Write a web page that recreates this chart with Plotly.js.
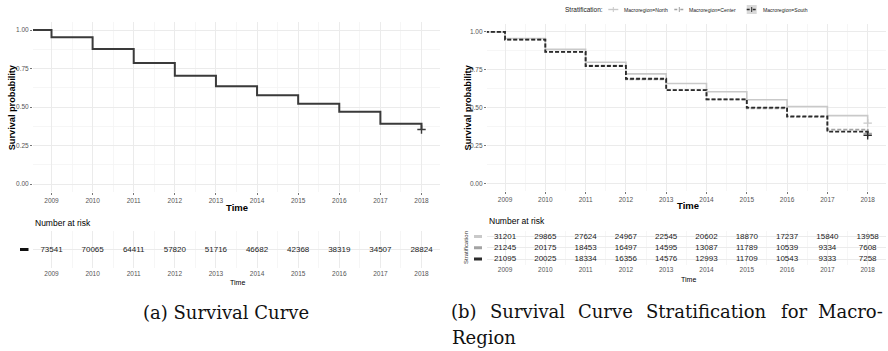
<!DOCTYPE html>
<html>
<head>
<meta charset="utf-8">
<script src="https://cdn.plot.ly/plotly-3.0.1.min.js"></script>
<style>html,body{margin:0;padding:0;background:#fff;}#chart{width:888px;height:351px;}</style>
</head>
<body>
<div id="chart"></div>
<script>
// ---------- data ----------
const years = [2009, 2010, 2011, 2012, 2013, 2014, 2015, 2016, 2017, 2018];
const survTime = [2008.5, 2009, 2010, 2011, 2012, 2013, 2014, 2015, 2016, 2017, 2018];
const survAll    = [1.00, 0.953, 0.876, 0.786, 0.703, 0.635, 0.576, 0.521, 0.469, 0.392, 0.354];
const survNorth  = [1.00, 0.957, 0.885, 0.800, 0.723, 0.660, 0.605, 0.552, 0.508, 0.447, 0.398];
const survCenter = [1.00, 0.950, 0.869, 0.777, 0.687, 0.616, 0.555, 0.496, 0.439, 0.355, 0.330];
const survSouth  = [1.00, 0.949, 0.869, 0.775, 0.691, 0.616, 0.555, 0.500, 0.442, 0.341, 0.318];
const riskAll    = [73541, 70065, 64411, 57820, 51716, 46682, 42368, 38319, 34507, 28824];
const riskNorth  = [31201, 29865, 27624, 24967, 22545, 20602, 18870, 17237, 15840, 13958];
const riskCenter = [21245, 20175, 18453, 16497, 14595, 13087, 11789, 10539, 9334, 7608];
const riskSouth  = [21095, 20025, 18334, 16356, 14576, 12993, 11709, 10543, 9333, 7258];
const strataNames = ["Macroregion=North", "Macroregion=Center", "Macroregion=South"];
const yTicks = [0, 0.25, 0.5, 0.75, 1.0];

// ---------- helpers ----------
const W = 888, H = 351;
const px = v => v / W;
const py = v => 1 - v / H;
const SANS = "Liberation Sans, Arial, sans-serif";
const SERIF = "DejaVu Serif, serif";
const gridMajor = "#ebebeb", gridMinor = "#f4f4f4";
const colAll = "#3a3a3a", colN = "#c9c9c9", colC = "#a3a3a3", colS = "#2b2b2b";
const DASH = "4px,2px";

function xAxis(dom, anchor) {
  return {
    domain: dom, anchor: anchor, range: [2008.55, 2018.45],
    tickmode: "array", tickvals: years, ticktext: years.map(String),
    tickfont: {family: SANS, size: 6.5, color: "#555"},
    ticks: "outside", ticklen: 2, tickcolor: "#555", tickwidth: 0.8,
    showgrid: true, gridcolor: gridMajor, gridwidth: 1,
    minor: {dtick: 0.5, tick0: 2009, showgrid: true, gridcolor: gridMinor, gridwidth: 0.8},
    zeroline: false, showline: false, fixedrange: true
  };
}
function yAxisPlot(dom, anchor) {
  return {
    domain: dom, anchor: anchor, range: [-0.05, 1.05],
    tickmode: "array", tickvals: yTicks, tickformat: ".2f",
    tickfont: {family: SANS, size: 6.5, color: "#555"},
    ticks: "outside", ticklen: 2, tickcolor: "#555", tickwidth: 0.8,
    showgrid: true, gridcolor: gridMajor, gridwidth: 1,
    minor: {dtick: 0.125, tick0: 0, showgrid: true, gridcolor: gridMinor, gridwidth: 0.8},
    zeroline: false, showline: false, fixedrange: true
  };
}
function yAxisTable(dom, anchor, n) {
  const vals = []; for (let i = 1; i <= n; i++) vals.push(i);
  return {
    domain: dom, anchor: anchor, range: [0.5, n + 0.5],
    tickmode: "array", tickvals: vals, showticklabels: false,
    showgrid: true, gridcolor: gridMajor, gridwidth: 1,
    zeroline: false, showline: false, ticks: "", fixedrange: true
  };
}

const traces = [];
function stepTrace(y, color, dash, width, xa, ya) {
  traces.push({x: survTime, y: y, type: "scatter", mode: "lines", line: {shape: "hv", color: color, width: width, dash: dash},
               xaxis: xa, yaxis: ya, showlegend: false, hoverinfo: "skip"});
  traces.push({x: [survTime[survTime.length - 1]], y: [y[y.length - 1]], type: "scatter", mode: "markers",
               marker: {symbol: "cross-thin", size: 6, line: {color: color, width: 1.4}, color: color},
               xaxis: xa, yaxis: ya, showlegend: false, hoverinfo: "skip", cliponaxis: false});
}
function riskTrace(vals, row, xa, ya) {
  traces.push({x: years, y: years.map(() => row), text: vals.map(String), type: "scatter", mode: "text",
               textfont: {family: SANS, size: 8, color: "#1a1a1a"}, textposition: "middle center",
               xaxis: xa, yaxis: ya, showlegend: false, hoverinfo: "skip", cliponaxis: false});
}

// left panel
stepTrace(survAll, colAll, "solid", 2, "x", "y");
riskTrace(riskAll, 1, "x2", "y2");
// right panel
stepTrace(survNorth, colN, "solid", 1.6, "x3", "y3");
stepTrace(survCenter, colC, DASH, 1.8, "x3", "y3");
stepTrace(survSouth, colS, DASH, 1.8, "x3", "y3");
riskTrace(riskNorth, 3, "x4", "y4");
riskTrace(riskCenter, 2, "x4", "y4");
riskTrace(riskSouth, 1, "x4", "y4");

// ---------- annotations ----------
const ann = [];
function text(t, x, y, opts) {
  ann.push(Object.assign({text: t, x: px(x), y: py(y), xref: "paper", yref: "paper", showarrow: false,
    xanchor: "center", yanchor: "middle", font: {family: SANS, size: 8, color: "#000"}}, opts || {}));
}
// left
text("<b>Survival probability</b>", 12.3, 107, {textangle: -90, font: {family: SANS, size: 9.2, color: "#000"}});
text("<b>Time</b>", 237, 207, {font: {family: SANS, size: 9.5, color: "#000"}});
text("Number at risk", 33, 223, {xanchor: "left", font: {family: SANS, size: 8.5, color: "#000"}});
text("Time", 237, 282, {font: {family: SANS, size: 7, color: "#000"}});
// right
text("<b>Survival probability</b>", 467, 107.5, {textangle: -90, font: {family: SANS, size: 9.2, color: "#000"}});
text("<b>Time</b>", 688, 206, {font: {family: SANS, size: 9.5, color: "#000"}});
text("Number at risk", 487, 221, {xanchor: "left", font: {family: SANS, size: 8.5, color: "#000"}});
text("Stratification", 466, 248, {textangle: -90, font: {family: SANS, size: 6, color: "#333"}});
text("Time", 688, 279, {font: {family: SANS, size: 7, color: "#000"}});
// legend
text("Stratification:", 583.5, 9.5, {font: {family: SANS, size: 6.5, color: "#222"}});
const legX = [613.3, 679.3, 751.7];
const legCol = [colN, colC, colS];
const legLabelX = [622, 687, 761];
strataNames.forEach((n, i) => text(n, legLabelX[i], 9.5, {xanchor: "left", font: {family: SANS, size: 5.1, color: "#222"}}));
// captions
text("(a) Survival Curve", 226, 312, {font: {family: SERIF, size: 18, color: "#111"}});
const capWords = ["(b)", "Survival", "Curve", "Stratification", "for", "Macro-"];
const capX = [463.5, 527.5, 605.5, 706.5, 794, 850];
capWords.forEach((w, i) => text(w, capX[i], 311, {font: {family: SERIF, size: 18, color: "#111"}}));
text("Region", 450, 337, {xanchor: "left", font: {family: SERIF, size: 18, color: "#111"}});

// ---------- shapes (legend keys, row keys) ----------
const shapes = [];
legX.forEach((cx, i) => {
  if (i === 2) shapes.push({type: "rect", xref: "paper", yref: "paper", x0: px(cx - 5), x1: px(cx + 5), y0: py(14), y1: py(5),
    fillcolor: "#d9d9d9", line: {width: 0}});
  shapes.push({type: "line", xref: "paper", yref: "paper", x0: px(cx - 5), x1: px(cx + 5), y0: py(9.5), y1: py(9.5),
    line: {color: legCol[i], width: 1.4, dash: i === 0 ? "solid" : "dot"}});
  shapes.push({type: "line", xref: "paper", yref: "paper", x0: px(cx), x1: px(cx), y0: py(7), y1: py(12),
    line: {color: legCol[i], width: 1}});
});
// row keys in risk tables
shapes.push({type: "line", xref: "paper", yref: "y2", x0: px(20), x1: px(28.5), y0: 1, y1: 1, line: {color: "#111", width: 3}});
[[3, colN], [2, colC], [1, colS]].forEach(r => {
  shapes.push({type: "line", xref: "paper", yref: "y4", x0: px(474), x1: px(482), y0: r[0], y1: r[0], line: {color: r[1], width: 3}});
});

const layout = {
  width: W, height: H, autosize: false,
  margin: {l: 0, r: 0, t: 0, b: 0, pad: 0},
  paper_bgcolor: "#fff", plot_bgcolor: "#fff",
  showlegend: false,
  xaxis: xAxis([px(33), px(440)], "y"),
  yaxis: yAxisPlot([py(191.7), py(22.3)], "x"),
  xaxis2: xAxis([px(33), px(440)], "y2"),
  yaxis2: yAxisTable([py(268), py(231)], "x2", 1),
  xaxis3: xAxis([px(486.9), px(885.8)], "y3"),
  yaxis3: yAxisPlot([py(190.9), py(24.4)], "x3"),
  xaxis4: xAxis([px(486.9), px(885.8)], "y4"),
  yaxis4: yAxisTable([py(264.6), py(231)], "x4", 3),
  annotations: ann,
  shapes: shapes
};
layout.xaxis2.ticks = ""; layout.xaxis4.ticks = "";

Plotly.newPlot("chart", traces, layout, {staticPlot: true, displayModeBar: false});
</script>
</body>
</html>
